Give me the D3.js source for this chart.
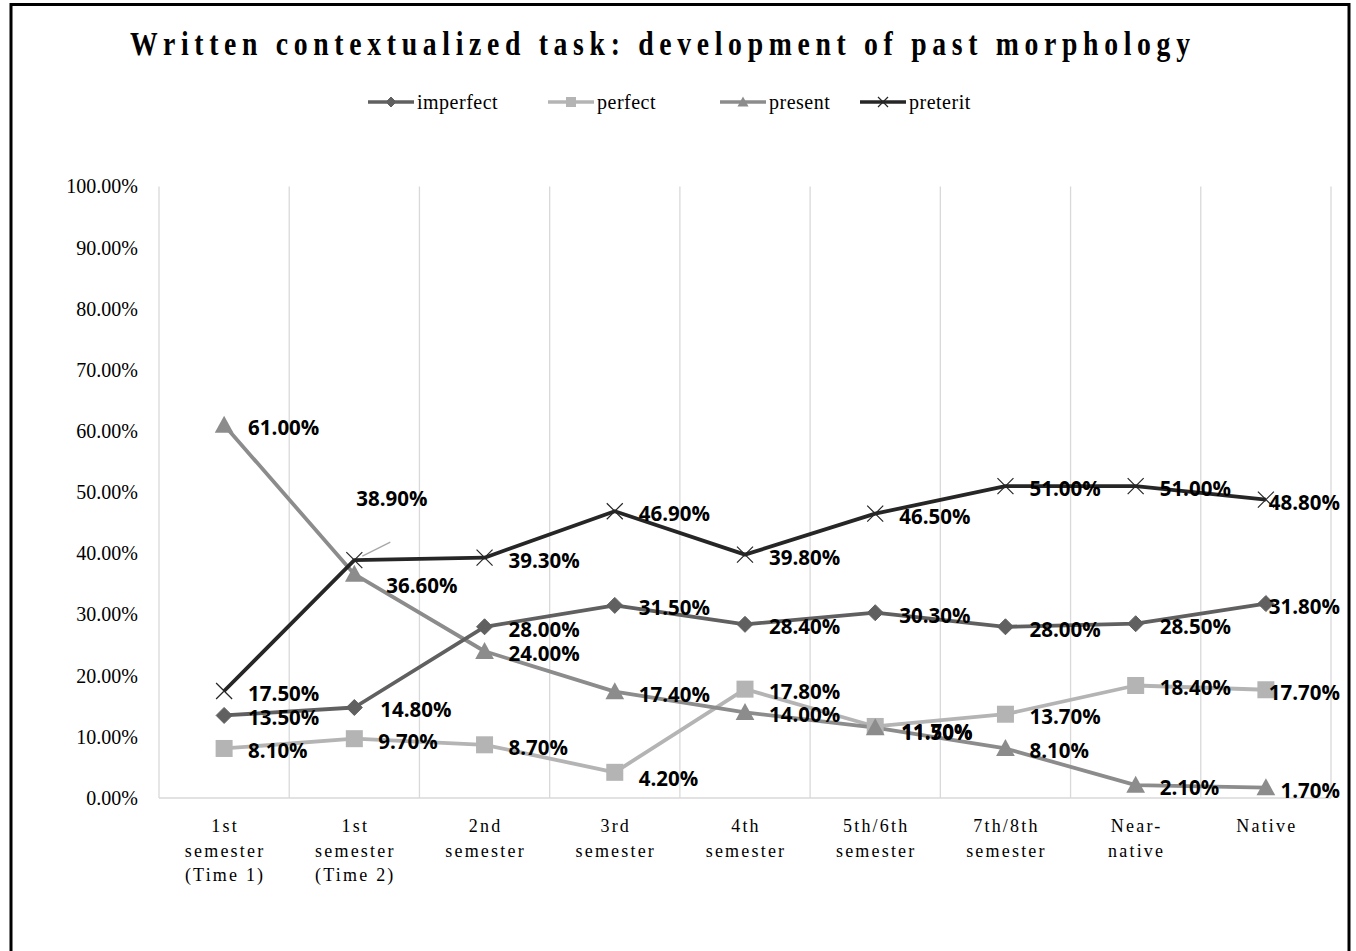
<!DOCTYPE html>
<html><head><meta charset="utf-8">
<script src="https://cdn.jsdelivr.net/npm/d3@7"></script>
<style>body{margin:0;background:#fff}svg{display:block}</style>
</head><body>
<script>
const categories = [["1st","semester","(Time 1)"],["1st","semester","(Time 2)"],["2nd","semester"],["3rd","semester"],["4th","semester"],["5th/6th","semester"],["7th/8th","semester"],["Near-","native"],["Native"]];
const seriesNames = ["imperfect","perfect","present","preterit"];
const imperfect = [13.5,14.8,28.0,31.5,28.4,30.3,28.0,28.5,31.8];
const perfect   = [8.1,9.7,8.7,4.2,17.8,11.7,13.7,18.4,17.7];
const present   = [61.0,36.6,24.0,17.4,14.0,11.5,8.1,2.1,1.7];
const preterit  = [17.5,38.9,39.3,46.9,39.8,46.5,51.0,51.0,48.8];
const yTicks = [0,10,20,30,40,50,60,70,80,90,100];
const title = "Written contextualized task: development of past morphology";

(function(){
const W=1356,H=951;
const svg=d3.select("body").append("svg").attr("width",W).attr("height",H);
svg.append("rect").attr("x",11).attr("y",4.5).attr("width",1338).attr("height",1000)
  .attr("fill","#fff").attr("stroke","#000").attr("stroke-width",3);

const pL=159,pR=1331,pT=186.5,pB=798;
const x=d3.scaleBand().domain(d3.range(categories.length)).range([pL,pR]);
const y=d3.scaleLinear().domain([0,100]).range([pB,pT]);
const cx=i=>x(i)+x.bandwidth()/2;

const tScale=0.84;
svg.append("g").attr("transform",`translate(660,55) scale(${tScale},1)`)
  .append("text").attr("x",0).attr("y",0).attr("text-anchor","middle")
  .attr("font-family","Liberation Serif").attr("font-weight","bold").attr("font-size",33)
  .attr("textLength",1060/tScale).attr("lengthAdjust","spacing").attr("fill","#000").text(title);

const edges=d3.range(categories.length+1).map(i=>pL+i*x.bandwidth());
svg.append("g").selectAll("line").data(edges).join("line")
  .attr("x1",d=>d).attr("x2",d=>d).attr("y1",pT).attr("y2",pB)
  .attr("stroke","#d9d9d9").attr("stroke-width",1.3);
svg.append("line").attr("x1",pL).attr("x2",pR).attr("y1",pB).attr("y2",pB)
  .attr("stroke","#d9d9d9").attr("stroke-width",1.3);

const yAxis=d3.axisLeft(y).tickValues(yTicks).tickSize(0).tickPadding(21).tickFormat(d=>d.toFixed(2)+"%");
const ya=svg.append("g").attr("transform",`translate(${pL},0)`).call(yAxis);
ya.select(".domain").remove();
ya.selectAll("text").attr("font-family","Liberation Serif").attr("font-size",20).attr("fill","#000");

const xg=svg.append("g");
categories.forEach((lines,i)=>{
  const t=xg.append("text").attr("text-anchor","middle").attr("font-family","Liberation Serif")
    .attr("font-size",18).attr("letter-spacing","2.2px").attr("fill","#000");
  lines.forEach((l,j)=>t.append("tspan").attr("x",cx(i)+1).attr("y",832+j*24.5).text(l));
});

const colors={imperfect:"#606060",perfect:"#b4b4b4",present:"#8c8c8c",preterit:"#262626"};
const data={imperfect,perfect,present,preterit};

function marker(g,name,px,py,s){
  const c=colors[name];
  if(name==="imperfect"){
    g.append("path").attr("d",`M${px},${py-s/2}L${px+s/2},${py}L${px},${py+s/2}L${px-s/2},${py}Z`).attr("fill",c).attr("stroke",c);
  } else if(name==="perfect"){
    g.append("rect").attr("x",px-s/2).attr("y",py-s/2).attr("width",s).attr("height",s).attr("fill",c);
  } else if(name==="present"){
    g.append("path").attr("d",`M${px},${py-s*0.55}L${px+s*0.55},${py+s*0.45}L${px-s*0.55},${py+s*0.45}Z`).attr("fill",c);
  } else {
    const h=s/2;
    g.append("path").attr("d",`M${px-h},${py-h}L${px+h},${py+h}M${px-h},${py+h}L${px+h},${py-h}`).attr("stroke",c).attr("stroke-width",1.2).attr("fill","none");
  }
}

const line=d3.line().x((d,i)=>cx(i)).y(d=>y(d));
const order=["perfect","present","imperfect","preterit"];
order.forEach(n=>{
  svg.append("path").datum(data[n]).attr("d",line).attr("fill","none")
    .attr("stroke",colors[n]).attr("stroke-width",3.8).attr("stroke-linejoin","round");
});
order.forEach(n=>{
  const g=svg.append("g");
  data[n].forEach((v,i)=>marker(g,n,cx(i),y(v),n==="imperfect"?16:n==="preterit"?16:17));
});

svg.append("line").attr("x1",cx(1)+8).attr("y1",y(preterit[1])-4).attr("x2",cx(1)+36).attr("y2",y(preterit[1])-18)
  .attr("stroke","#a6a6a6").attr("stroke-width",1.2);

const override={
  "preterit-1":{dx:2,dy:-62},
  "present-1":{dx:32,dy:11},
  "imperfect-1":{dx:26,dy:2},
  "perfect-5":{dx:26,dy:5},
  "present-5":{dx:26,dy:4},
  "perfect-3":{dx:24,dy:6}
};
const lg=svg.append("g");
seriesNames.forEach(n=>{
  data[n].forEach((v,i)=>{
    const o=override[n+"-"+i]||{dx:24,dy:2};
    const last=i===categories.length-1;
    lg.append("text").attr("x",last?1340:cx(i)+o.dx).attr("y",y(v)+o.dy)
      .attr("text-anchor",last?"end":"start").attr("dominant-baseline","central")
      .attr("font-family","Open Sans").attr("font-weight","bold").attr("font-size",20.5)
      .attr("fill","#000").text(v.toFixed(2)+"%");
  });
});

const legX=[368,548,720,860];
const lgd=svg.append("g");
seriesNames.forEach((n,k)=>{
  const x0=legX[k],yy=102;
  lgd.append("line").attr("x1",x0).attr("x2",x0+46).attr("y1",yy).attr("y2",yy).attr("stroke",colors[n]).attr("stroke-width",3.5);
  marker(lgd,n,x0+23,yy,10);
  lgd.append("text").attr("x",x0+49).attr("y",yy).attr("dominant-baseline","central")
    .attr("font-family","Liberation Serif").attr("font-size",20).attr("letter-spacing","0.5px").attr("fill","#000").text(n);
});
})();
</script>
</body></html>
